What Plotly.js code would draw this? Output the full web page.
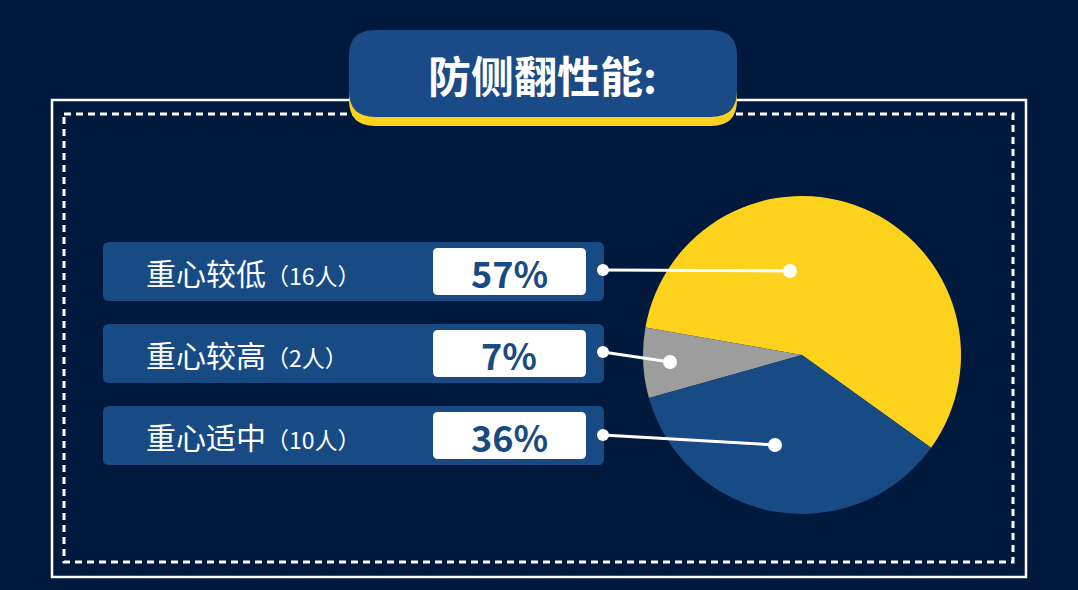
<!DOCTYPE html>
<html>
<head>
<meta charset="utf-8">
<script src="https://cdn.plot.ly/plotly-3.0.1.min.js"></script>
<style>
  html, body { margin: 0; padding: 0; background: #00193d; }
  #graph { width: 1078px; height: 590px; }
</style>
</head>
<body>
<div id="graph"></div>
<script>
// data
var title = "防侧翻性能:";
var categories = ["重心较低", "重心较高", "重心适中"];
var counts = [16, 2, 10];
var sliceColors = ["#fdd21c", "#9d9d9d", "#184a84"];

var bg = "#00193d";
var barBlue = "#184a84";
var font = "'Noto Sans CJK SC', 'Noto Sans', sans-serif";

var total = counts.reduce(function (a, b) { return a + b; }, 0);
var percents = counts.map(function (c) { return Math.round(c / total * 100) + "%"; });

// pie position in pixels
var W = 1078, H = 590;
var cx = 802, cy = 355, R = 159;

// rows
var rowTop = [242, 324, 406];
var rowH = 59;
var dotL = [[603, 270], [603, 352], [603, 435]];
var dotP = [[790, 271], [670, 362], [775, 445]];

function roundRect(x0, y0, x1, y1, r) {
    return "M" + (x0 + r) + "," + y0 +
        " L" + (x1 - r) + "," + y0 +
        " Q" + x1 + "," + y0 + " " + x1 + "," + (y0 + r) +
        " L" + x1 + "," + (y1 - r) +
        " Q" + x1 + "," + y1 + " " + (x1 - r) + "," + y1 +
        " L" + (x0 + r) + "," + y1 +
        " Q" + x0 + "," + y1 + " " + x0 + "," + (y1 - r) +
        " L" + x0 + "," + (y0 + r) +
        " Q" + x0 + "," + y0 + " " + (x0 + r) + "," + y0 + " Z";
}

var shapes = [];
var annotations = [];

// frames
shapes.push({ type: "rect", xref: "x", yref: "y", x0: 52, y0: 100, x1: 1026, y1: 577,
    line: { color: "white", width: 2.5 } });
shapes.push({ type: "rect", xref: "x", yref: "y", x0: 64, y0: 114, x1: 1013, y1: 562,
    line: { color: "white", width: 3, dash: "7px,5px" } });

// title box
shapes.push({ type: "path", xref: "x", yref: "y", path: roundRect(349, 39, 737, 126, 26),
    fillcolor: "#fdd21c", line: { width: 0 } });
shapes.push({ type: "path", xref: "x", yref: "y", path: roundRect(349, 30, 737, 117, 26),
    fillcolor: "#1a4b86", line: { width: 0 } });
annotations.push({ xref: "x", yref: "y", x: 542, y: 74, text: "<b>" + title + "</b>",
    showarrow: false, font: { family: font, size: 43, color: "white" } });

for (var i = 0; i < categories.length; i++) {
    var t = rowTop[i];
    shapes.push({ type: "path", xref: "x", yref: "y", path: roundRect(103, t, 604, t + rowH, 6),
        fillcolor: barBlue, line: { width: 0 } });
    shapes.push({ type: "path", xref: "x", yref: "y", path: roundRect(433, t + 6, 586, t + 53, 5),
        fillcolor: "white", line: { width: 0 } });
    annotations.push({ xref: "x", yref: "y", x: 144, y: t + 30, xanchor: "left",
        text: categories[i] + "<span style='font-size:23px'>（" + counts[i] + "人）</span>",
        showarrow: false, font: { family: font, size: 30, color: "white" } });
    annotations.push({ xref: "x", yref: "y", x: 509, y: t + 30,
        text: "<b>" + percents[i] + "</b>",
        showarrow: false, font: { family: font, size: 36, color: barBlue } });

    // connectors
    shapes.push({ type: "line", xref: "x", yref: "y", x0: dotL[i][0], y0: dotL[i][1],
        x1: dotP[i][0], y1: dotP[i][1], line: { color: "white", width: 3 } });
    shapes.push({ type: "circle", xref: "x", yref: "y", x0: dotL[i][0] - 6, y0: dotL[i][1] - 6,
        x1: dotL[i][0] + 6, y1: dotL[i][1] + 6, fillcolor: "white", line: { width: 0 } });
    shapes.push({ type: "circle", xref: "x", yref: "y", x0: dotP[i][0] - 7, y0: dotP[i][1] - 7,
        x1: dotP[i][0] + 7, y1: dotP[i][1] + 7, fillcolor: "white", line: { width: 0 } });
}

var pie = {
    type: "pie",
    labels: categories,
    values: counts,
    sort: false,
    direction: "counterclockwise",
    rotation: -80,
    textinfo: "none",
    hoverinfo: "skip",
    marker: { colors: sliceColors, line: { width: 0 } },
    domain: { x: [(cx - R) / W, (cx + R) / W], y: [(H - cy - R) / H, (H - cy + R) / H] },
    showlegend: false
};

var layout = {
    width: W,
    height: H,
    paper_bgcolor: bg,
    plot_bgcolor: bg,
    margin: { l: 0, r: 0, t: 0, b: 0 },
    showlegend: false,
    xaxis: { range: [0, W], visible: false, fixedrange: true },
    yaxis: { range: [H, 0], visible: false, fixedrange: true },
    shapes: shapes,
    annotations: annotations
};

Plotly.newPlot("graph", [pie], layout, { displayModeBar: false, staticPlot: true });
</script>
</body>
</html>
